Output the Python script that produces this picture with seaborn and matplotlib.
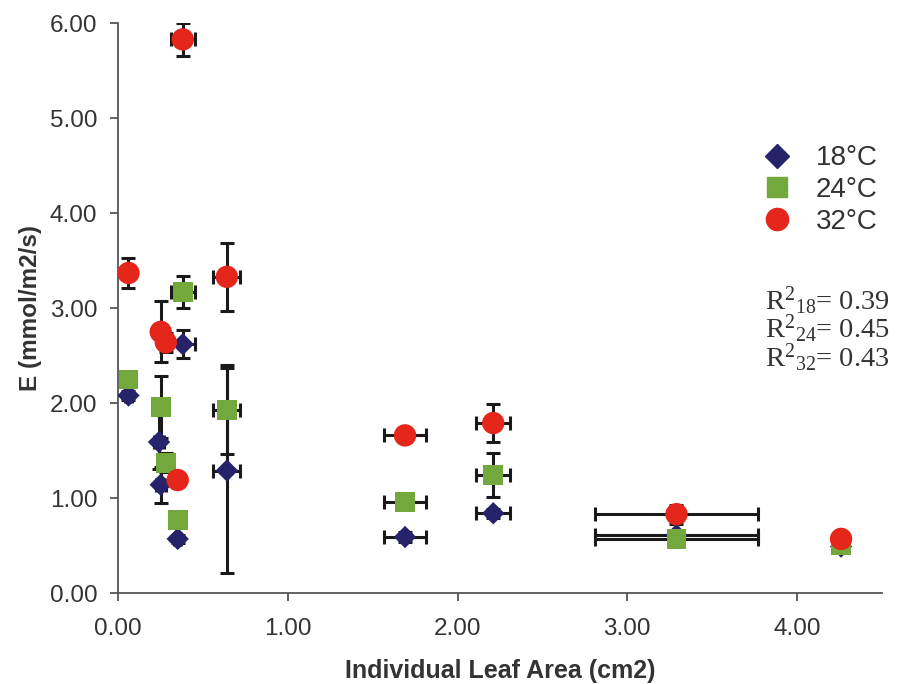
import matplotlib
matplotlib.use("Agg")
import matplotlib.pyplot as plt
import seaborn as sns
import pandas as pd
from matplotlib.lines import Line2D

# ---- data ----
series = ["18\u00b0C", "24\u00b0C", "32\u00b0C"]
x18 = [0.06, 0.24, 0.25, 0.35, 0.38, 0.64, 1.69, 2.21, 3.29, 4.26]
y18 = [2.08, 1.59, 1.14, 0.57, 2.62, 1.29, 0.59, 0.84, 0.61, 0.49]
xe18 = [0.02, 0.03, 0.03, 0.02, 0.07, 0.08, 0.125, 0.10, 0.48, 0.02]
ye18 = [0.05, 0.28, 0.19, 0.04, 0.15, 1.08, 0.05, 0.05, 0.05, 0.03]

x24 = [0.06, 0.25, 0.28, 0.35, 0.38, 0.64, 1.69, 2.21, 3.29, 4.26]
y24 = [2.25, 1.96, 1.37, 0.77, 3.17, 1.93, 0.96, 1.24, 0.57, 0.50]
xe24 = [0.02, 0.03, 0.03, 0.02, 0.07, 0.08, 0.125, 0.10, 0.48, 0.02]
ye24 = [0.08, 0.33, 0.10, 0.05, 0.17, 0.47, 0.05, 0.23, 0.05, 0.03]

x32 = [0.06, 0.25, 0.28, 0.35, 0.38, 0.64, 1.69, 2.21, 3.29, 4.26]
y32 = [3.37, 2.75, 2.64, 1.19, 5.83, 3.33, 1.66, 1.79, 0.83, 0.57]
xe32 = [0.02, 0.03, 0.03, 0.02, 0.07, 0.08, 0.125, 0.10, 0.48, 0.02]
ye32 = [0.16, 0.32, 0.10, 0.05, 0.17, 0.36, 0.07, 0.20, 0.10, 0.03]

r2_labels = ["18", "24", "32"]
r2_values = [0.39, 0.45, 0.43]
xticks = [0, 1, 2, 3, 4]
yticks = [0, 1, 2, 3, 4, 5, 6]

colors = ["#26236b", "#72a83c", "#e4261b"]
markers = ["D", "s", "o"]
sizes = [130, 200, 260]

frames = []
for name, xs, ys, xe, ye in zip(series, [x18, x24, x32], [y18, y24, y32],
                                [xe18, xe24, xe32], [ye18, ye24, ye32]):
    frames.append(pd.DataFrame({"x": xs, "y": ys, "xe": xe, "ye": ye, "T": name}))
df = pd.concat(frames, ignore_index=True)

sns.set_style("white")
plt.rcParams["font.family"] = ["Liberation Sans", "DejaVu Sans"]

fig = plt.figure(figsize=(9.1, 6.84), dpi=100)
ax = fig.add_axes([0.13, 0.133, 0.839, 0.833])

for i, name in enumerate(series):
    sub = df[df["T"] == name]
    ax.errorbar(sub["x"], sub["y"], xerr=sub["xe"], yerr=sub["ye"], fmt="none",
                ecolor="#1a1a1a", elinewidth=2.2, capsize=5, capthick=2.2, zorder=2)
for i, name in enumerate(series):
    sub = df[df["T"] == name]
    sns.scatterplot(data=sub, x="x", y="y", ax=ax, marker=markers[i], s=sizes[i],
                    color=colors[i], edgecolor="none", linewidth=0, zorder=3 + i,
                    legend=False)

ax.set_xlim(0, 4.5)
ax.set_ylim(0, 6)
ax.set_xticks(xticks)
ax.set_yticks(yticks)
ax.set_xticklabels([f"{v:.2f}" for v in xticks], fontsize=17.5, color="#333333")
ax.set_yticklabels([f"{v:.2f}" for v in yticks], fontsize=17.5, color="#333333")
for s in ["top", "right"]:
    ax.spines[s].set_visible(False)
for s in ["left", "bottom"]:
    ax.spines[s].set_color("#555555")
    ax.spines[s].set_linewidth(1.3)
ax.tick_params(axis="both", direction="out", length=6, width=1.3, color="#555555",
               left=True, bottom=True)
ax.tick_params(axis="y", pad=9)
ax.tick_params(axis="x", pad=12)

ax.set_xlabel("Individual Leaf Area (cm2)", fontsize=18, fontweight="bold",
              color="#333333", labelpad=14)
ax.set_ylabel("E (mmol/m2/s)", fontsize=17.5, fontweight="bold", color="#333333",
              labelpad=6)

handles = [Line2D([0], [0], marker=markers[i], linestyle="none", color=colors[i],
                  markersize=[12, 14, 16][i]) for i in range(3)]
ax.legend(handles, series, loc="upper left", bbox_to_anchor=(0.83, 0.805),
          frameon=False, fontsize=20, handletextpad=0.9, labelspacing=0.2,
          borderaxespad=0, handlelength=1.0, labelcolor="#333333")

r2_text = "\n".join(r"$\mathregular{R^{2}{}_{%s}}$= %.2f" % (lab, val)
                    for lab, val in zip(r2_labels, r2_values))
fig.text(0.841, 0.519, r2_text, fontsize=20.5, family="Liberation Serif",
         color="#333333", ha="left", va="center", linespacing=0.84)

fig.savefig("out.png", dpi=100)
